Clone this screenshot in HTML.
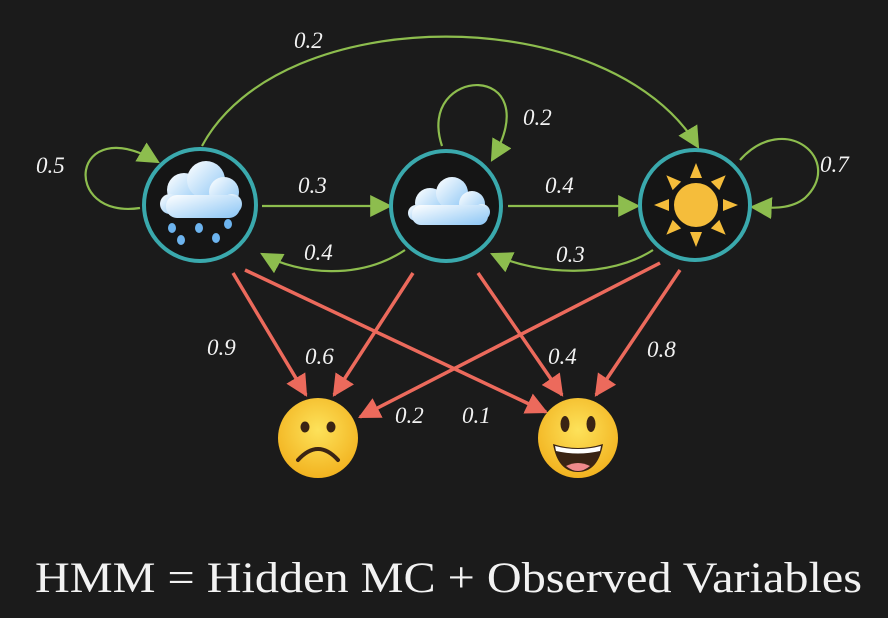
<!DOCTYPE html>
<html><head><meta charset="utf-8"><style>
html,body{margin:0;padding:0;background:#1b1b1b;}
svg{display:block}
.l{font-family:"Liberation Serif",serif;font-style:italic;font-size:23px;fill:#f2f2f2}
</style></head><body>
<svg width="888" height="618" viewBox="0 0 888 618">
<defs>
<linearGradient id="cl" x1="0" y1="0" x2="1" y2="1"><stop offset="0" stop-color="#ffffff"/><stop offset="1" stop-color="#8cc6f5"/></linearGradient>
<radialGradient id="fc" cx="0.5" cy="0.4" r="0.6"><stop offset="0" stop-color="#fde25a"/><stop offset="1" stop-color="#f2b320"/></radialGradient>
<marker id="ga" viewBox="0 0 10 10" refX="9" refY="5" markerWidth="22" markerHeight="22" markerUnits="userSpaceOnUse" orient="auto"><path d="M0,0 L10,5 L0,10 z" fill="#8dbd4e"/></marker>
<marker id="ra" viewBox="0 0 10 10" refX="9" refY="5" markerWidth="22" markerHeight="22" markerUnits="userSpaceOnUse" orient="auto"><path d="M0,0 L10,5 L0,10 z" fill="#ec6a5c"/></marker>
</defs>
<rect width="888" height="618" fill="#1b1b1b"/>
<g fill="none" stroke="#8dbd4e" stroke-width="2.2">
<path d="M140,208 C60,220 70,110 158,162" marker-end="url(#ga)"/>
<path d="M202,146 C280,0 610,0 698,147" marker-end="url(#ga)"/>
<path d="M262,206 L390,206" marker-end="url(#ga)"/>
<path d="M405,250 C360,280 300,275 262,254" marker-end="url(#ga)"/>
<path d="M442,146 C415,65 550,60 492,160" marker-end="url(#ga)"/>
<path d="M508,206 L638,206" marker-end="url(#ga)"/>
<path d="M653,250 C610,278 540,276 492,254" marker-end="url(#ga)"/>
<path d="M740,160 C785,110 845,160 805,198 C790,210 770,208 752,207" marker-end="url(#ga)"/>
</g>
<g fill="none" stroke="#ec6a5c" stroke-width="3.5">
<path d="M233,273 L306,395" marker-end="url(#ra)"/>
<path d="M245,270 L546,412" marker-end="url(#ra)"/>
<path d="M413,273 L334,395" marker-end="url(#ra)"/>
<path d="M478,273 L562,395" marker-end="url(#ra)"/>
<path d="M660,263 L360,417" marker-end="url(#ra)"/>
<path d="M680,270 L596,395" marker-end="url(#ra)"/>
</g>
<g fill="#151515" stroke="#3aa9ad" stroke-width="4">
<circle cx="200" cy="205" r="56"/>
<circle cx="446" cy="206" r="55"/>
<circle cx="695" cy="205" r="55"/>
</g>
<g fill="url(#cl)">
<circle cx="184" cy="190" r="17"/><circle cx="206" cy="180" r="19"/><circle cx="224" cy="192" r="15"/><circle cx="232" cy="204" r="10"/><circle cx="170" cy="204" r="10"/>
<rect x="166" y="195" width="74" height="23" rx="11"/>
</g>
<g fill="#6db4ef">
<ellipse cx="172" cy="228" rx="4" ry="5"/><ellipse cx="199" cy="228" rx="4" ry="5"/><ellipse cx="228" cy="224" rx="4" ry="5"/><ellipse cx="181" cy="240" rx="4" ry="5"/><ellipse cx="216" cy="238" rx="4" ry="5"/>
</g>
<g fill="url(#cl)">
<circle cx="430" cy="203" r="15"/><circle cx="452" cy="193" r="16"/><circle cx="472" cy="204" r="13"/><circle cx="482" cy="212" r="8"/><circle cx="416" cy="213" r="8"/>
<rect x="412" y="205" width="76" height="20" rx="9"/>
</g>
<g fill="#f5bd3b">
<circle cx="696" cy="205" r="22"/>
<g transform="translate(696,205)">
<path d="M-6,-27 L0,-42 L6,-27z"/><path d="M-6,27 L0,42 L6,27z"/><path d="M-27,-6 L-42,0 L-27,6z"/><path d="M27,-6 L42,0 L27,6z"/>
<g transform="rotate(45)"><path d="M-6,-27 L0,-42 L6,-27z"/><path d="M-6,27 L0,42 L6,27z"/><path d="M-27,-6 L-42,0 L-27,6z"/><path d="M27,-6 L42,0 L27,6z"/></g>
</g>
</g>
<circle cx="318" cy="438" r="40" fill="url(#fc)"/>
<ellipse cx="305" cy="427" rx="4.5" ry="5.5" fill="#3a2414"/><ellipse cx="331" cy="427" rx="4.5" ry="5.5" fill="#3a2414"/>
<path d="M298,460 Q318,438 338,460" fill="none" stroke="#3a2414" stroke-width="4" stroke-linecap="round"/>
<circle cx="578" cy="438" r="40" fill="url(#fc)"/>
<ellipse cx="565" cy="424" rx="4.5" ry="8" fill="#3a2414"/><ellipse cx="591" cy="424" rx="4.5" ry="8" fill="#3a2414"/>
<path d="M553,444 Q578,452 603,444 Q598,472 578,472 Q558,472 553,444z" fill="#3a2414"/>
<path d="M555,446 Q578,452 601,446 L600,451 Q578,456 556,451z" fill="#fff"/>
<path d="M566,466 Q578,460 590,466 Q584,471 578,471 Q572,471 566,466z" fill="#f08a8a"/>
<text class="l" x="294" y="48">0.2</text>
<text class="l" x="36" y="173">0.5</text>
<text class="l" x="298" y="193">0.3</text>
<text class="l" x="304" y="260">0.4</text>
<text class="l" x="523" y="125">0.2</text>
<text class="l" x="545" y="193">0.4</text>
<text class="l" x="556" y="262">0.3</text>
<text class="l" x="820" y="172">0.7</text>
<text class="l" x="207" y="355">0.9</text>
<text class="l" x="305" y="364">0.6</text>
<text class="l" x="548" y="364">0.4</text>
<text class="l" x="647" y="357">0.8</text>
<text class="l" x="395" y="423">0.2</text>
<text class="l" x="462" y="423">0.1</text>
<text x="35" y="592" textLength="827" lengthAdjust="spacingAndGlyphs" font-family="Liberation Serif, serif" font-size="43" fill="#f2f2f2">HMM = Hidden MC + Observed Variables</text>
</svg>
</body></html>
